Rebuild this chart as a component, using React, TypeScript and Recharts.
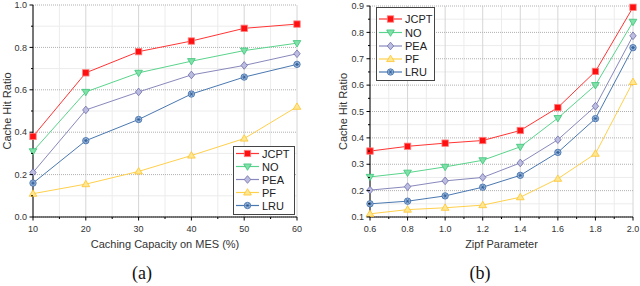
import React from 'react';
import { LineChart, Line, XAxis, YAxis, CartesianGrid, Label } from 'recharts';

// (a) caching capacity
const capacity = [10, 20, 30, 40, 50, 60];
const capJCPT = [0.38, 0.68, 0.78, 0.83, 0.89, 0.91];
const capNO = [0.31, 0.59, 0.68, 0.735, 0.785, 0.82];
const capPEA = [0.21, 0.505, 0.59, 0.67, 0.715, 0.77];
const capPF = [0.11, 0.155, 0.215, 0.29, 0.37, 0.52];
const capLRU = [0.16, 0.36, 0.46, 0.58, 0.66, 0.72];

// (b) zipf parameter
const zipf = [0.6, 0.8, 1.0, 1.2, 1.4, 1.6, 1.8, 2.0];
const zipfJCPT = [0.35, 0.368, 0.38, 0.39, 0.428, 0.515, 0.652, 0.895];
const zipfNO = [0.252, 0.268, 0.29, 0.315, 0.366, 0.475, 0.6, 0.84];
const zipfPEA = [0.202, 0.215, 0.237, 0.25, 0.305, 0.393, 0.52, 0.787];
const zipfPF = [0.112, 0.128, 0.135, 0.145, 0.175, 0.245, 0.34, 0.612];
const zipfLRU = [0.15, 0.16, 0.18, 0.213, 0.258, 0.345, 0.473, 0.742];

// tick values
const capXTicks = [10, 15, 20, 25, 30, 35, 40, 45, 50, 55, 60];
const capXLabels = [10, 20, 30, 40, 50, 60];
const capYTicks = [0, 0.1, 0.2, 0.3, 0.4, 0.5, 0.6, 0.7, 0.8, 0.9, 1.0];
const capYLabels = [0, 0.2, 0.4, 0.6, 0.8, 1.0];
const zipfXTicks = [0.6, 0.7, 0.8, 0.9, 1.0, 1.1, 1.2, 1.3, 1.4, 1.5, 1.6, 1.7, 1.8, 1.9, 2.0];
const zipfXLabels = [0.6, 0.8, 1.0, 1.2, 1.4, 1.6, 1.8, 2.0];
const zipfYTicks = [0.1, 0.15, 0.2, 0.25, 0.3, 0.35, 0.4, 0.45, 0.5, 0.55, 0.6, 0.65, 0.7, 0.75, 0.8, 0.85, 0.9];
const zipfYLabels = [0.1, 0.2, 0.3, 0.4, 0.5, 0.6, 0.7, 0.8, 0.9];

const seriesNames = ['JCPT', 'NO', 'PEA', 'PF', 'LRU'];

const capData = capacity.map((x, i) => ({
  x, JCPT: capJCPT[i], NO: capNO[i], PEA: capPEA[i], PF: capPF[i], LRU: capLRU[i],
}));
const zipfData = zipf.map((x, i) => ({
  x, JCPT: zipfJCPT[i], NO: zipfNO[i], PEA: zipfPEA[i], PF: zipfPF[i], LRU: zipfLRU[i],
}));

const style: Record<string, { line: string; kind: string }> = {
  JCPT: { line: '#ff3434', kind: 'square' },
  NO: { line: '#5ad48c', kind: 'down' },
  PEA: { line: '#8888bc', kind: 'diamond' },
  PF: { line: '#ffd04c', kind: 'up' },
  LRU: { line: '#4a78b0', kind: 'star' },
};

const FONT = '"Liberation Sans", Arial, sans-serif';

const has = (arr: number[], v: number) => arr.some((a) => Math.abs(a - v) < 1e-6);

const Marker = ({ kind, cx, cy }: { kind: string; cx: number; cy: number }) => {
  const s = 3.2;
  if (kind === 'square')
    return <rect x={cx - s} y={cy - s} width={2 * s} height={2 * s} fill="#ff1010" stroke="#ff8080" strokeWidth={0.8} />;
  if (kind === 'down')
    return (
      <polygon
        points={`${cx - s * 1.2},${cy - s * 0.8} ${cx + s * 1.2},${cy - s * 0.8} ${cx},${cy + s * 1.2}`}
        fill="#7fe0a8" stroke="#3cc478" strokeWidth={0.8}
      />
    );
  if (kind === 'diamond')
    return (
      <polygon
        points={`${cx},${cy - s * 1.2} ${cx + s},${cy} ${cx},${cy + s * 1.2} ${cx - s},${cy}`}
        fill="#bcbce0" stroke="#6e6eaa" strokeWidth={0.8}
      />
    );
  if (kind === 'up')
    return (
      <polygon
        points={`${cx - s * 1.2},${cy + s * 0.8} ${cx + s * 1.2},${cy + s * 0.8} ${cx},${cy - s * 1.2}`}
        fill="#ffe690" stroke="#ffc42c" strokeWidth={0.8}
      />
    );
  return (
    <g>
      <circle cx={cx} cy={cy} r={s} fill="#9cb8dc" stroke="#3a6aa6" strokeWidth={0.8} />
      <line x1={cx - 2} y1={cy} x2={cx + 2} y2={cy} stroke="#2c5a96" strokeWidth={0.8} />
      <line x1={cx - 1} y1={cy - 1.8} x2={cx + 1} y2={cy + 1.8} stroke="#2c5a96" strokeWidth={0.8} />
      <line x1={cx + 1} y1={cy - 1.8} x2={cx - 1} y2={cy + 1.8} stroke="#2c5a96" strokeWidth={0.8} />
    </g>
  );
};

const makeTick = (side: string, labels: number[], digits: number) => (props: any) => {
  const { x, y, payload } = props;
  const v = payload.value as number;
  const major = has(labels, v);
  const len = major ? 3.5 : 2;
  const txt = v.toFixed(digits);
  if (side === 'bottom')
    return (
      <g>
        <line x1={x} y1={y} x2={x} y2={y + len} stroke="#000" />
        {major && (
          <text x={x} y={y + 15} textAnchor="middle" fontSize={9} fill="#333" fontFamily={FONT}>{txt}</text>
        )}
      </g>
    );
  if (side === 'left')
    return (
      <g>
        <line x1={x - len} y1={y} x2={x} y2={y} stroke="#000" />
        {major && (
          <text x={x - 6} y={y + 3.2} textAnchor="end" fontSize={9} fill="#333" fontFamily={FONT}>{txt}</text>
        )}
      </g>
    );
  if (side === 'top') return <line x1={x} y1={y} x2={x} y2={y + len} stroke="#000" />;
  return <line x1={x - len} y1={y} x2={x} y2={y} stroke="#000" />;
};

const Legend = ({ left, top, width, height, rows }: any) => (
  <svg style={{ position: 'absolute', left, top }} width={width + 2} height={height + 2}>
    <rect x={0.5} y={0.5} width={width} height={height} fill="#fff" stroke="#444" />
    {seriesNames.map((n, i) => {
      const cy = rows[i];
      return (
        <g key={n}>
          <line x1={3} y1={cy} x2={26} y2={cy} stroke={style[n].line} strokeWidth={1.2} />
          <Marker kind={style[n].kind} cx={14.5} cy={cy} />
          <text x={29} y={cy + 4} fontSize={11} fill="#222" fontFamily={FONT}>{n}</text>
        </g>
      );
    })}
  </svg>
);

interface PanelProps {
  data: any[];
  xDomain: number[];
  yDomain: number[];
  xTicks: number[];
  xLabels: number[];
  yTicks: number[];
  yLabels: number[];
  xDigits: number;
  xTitle: string;
  yAxisWidth: number;
  yTitleOffset: number;
  margin: { top: number; right: number; left: number; bottom: number };
}

const Panel = (p: PanelProps) => {
  const xMinor = p.xTicks.filter((t) => !has(p.xLabels, t));
  const yMinor = p.yTicks.filter((t) => !has(p.yLabels, t));
  return (
    <LineChart width={320} height={250} data={p.data} margin={p.margin}>
      <CartesianGrid verticalValues={xMinor} horizontalValues={yMinor} stroke="#ececec" />
      <CartesianGrid horizontal={false} verticalValues={p.xLabels} stroke="#d6d6d6" />
      <CartesianGrid vertical={false} horizontalValues={p.yLabels} stroke="#b0b0b0" strokeDasharray="1 1" />
      <XAxis
        dataKey="x" type="number" domain={p.xDomain} ticks={p.xTicks} interval={0}
        height={33} tickSize={0} tickMargin={0} tickLine={false} stroke="#000"
        tick={makeTick('bottom', p.xLabels, p.xDigits)}
      >
        <Label value={p.xTitle} position="insideBottom" offset={2} fontSize={11} fill="#333" fontFamily={FONT} />
      </XAxis>
      <XAxis
        xAxisId="top" orientation="top" dataKey="x" type="number" domain={p.xDomain} ticks={p.xTicks}
        interval={0} height={0} tickSize={0} tickMargin={0} tickLine={false} stroke="#000"
        tick={makeTick('top', p.xLabels, p.xDigits)}
      />
      <YAxis
        type="number" domain={p.yDomain} ticks={p.yTicks} interval={0} width={p.yAxisWidth}
        tickSize={0} tickMargin={0} tickLine={false} stroke="#000"
        tick={makeTick('left', p.yLabels, 1)}
      >
        <Label
          value="Cache Hit Ratio" angle={-90} position="insideLeft" offset={p.yTitleOffset}
          fontSize={11} fill="#333" fontFamily={FONT} style={{ textAnchor: 'middle' }}
        />
      </YAxis>
      <YAxis
        yAxisId="right" orientation="right" type="number" domain={p.yDomain} ticks={p.yTicks}
        interval={0} width={0} tickSize={0} tickMargin={0} tickLine={false} stroke="#000"
        tick={makeTick('right', p.yLabels, 1)}
      />
      {seriesNames.map((n) => (
        <Line
          key={n}
          dataKey={n}
          type="linear"
          stroke={style[n].line}
          strokeWidth={1}
          isAnimationActive={false}
          dot={(d: any) => <Marker key={`${n}-${d.index}`} kind={style[n].kind} cx={d.cx} cy={d.cy} />}
        />
      ))}
    </LineChart>
  );
};

const capStyle: React.CSSProperties = {
  position: 'absolute', top: 262, fontFamily: '"Liberation Serif", "Times New Roman", serif',
  fontSize: 18, width: 60, textAlign: 'center', color: '#111', lineHeight: '22px',
};

export default function App() {
  return (
    <div style={{ position: 'absolute', left: 0, top: 0, width: 640, height: 286, background: '#fff', overflow: 'hidden' }}>
      <div style={{ position: 'absolute', left: 0, top: 0 }}>
        <Panel
          data={capData} xDomain={[10, 60]} yDomain={[0, 1]}
          xTicks={capXTicks} xLabels={capXLabels} yTicks={capYTicks} yLabels={capYLabels}
          xDigits={0} xTitle="Caching Capacity on MES (%)" yAxisWidth={33} yTitleOffset={7}
          margin={{ top: 5, right: 23, left: 0, bottom: 0 }}
        />
      </div>
      <div style={{ position: 'absolute', left: 320, top: 0 }}>
        <Panel
          data={zipfData} xDomain={[0.6, 2.0]} yDomain={[0.1, 0.9]}
          xTicks={zipfXTicks} xLabels={zipfXLabels} yTicks={zipfYTicks} yLabels={zipfYLabels}
          xDigits={1} xTitle="Zipf Parameter" yAxisWidth={50} yTitleOffset={23}
          margin={{ top: 6, right: 7, left: 0, bottom: 0 }}
        />
      </div>
      <Legend left={233} top={146} width={61} height={68} rows={[7.5, 20.5, 33.5, 46.5, 59.5]} />
      <Legend left={376} top={7} width={58} height={73} rows={[12, 25.5, 39, 52, 65]} />
      <div style={{ ...capStyle, left: 112 }}>(a)</div>
      <div style={{ ...capStyle, left: 450 }}>(b)</div>
    </div>
  );
}
